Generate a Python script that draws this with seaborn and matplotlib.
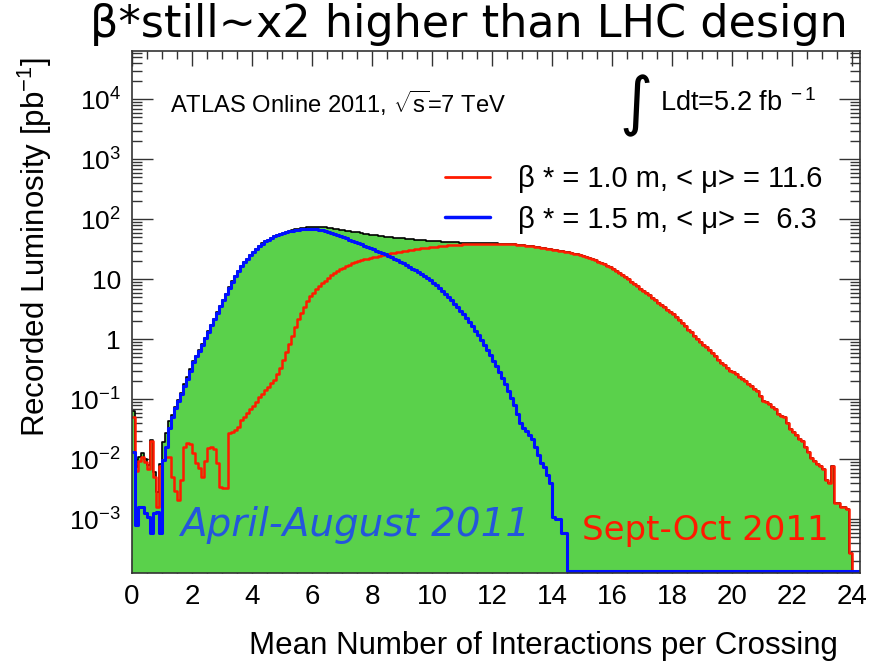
import numpy as np
import pandas as pd
import matplotlib
matplotlib.use('Agg')
import matplotlib.pyplot as plt
import seaborn as sns
from matplotlib.lines import Line2D
from matplotlib.ticker import FixedLocator, FixedFormatter, MultipleLocator, LogLocator, NullFormatter

# ── data: recorded luminosity [pb^-1] per 0.1 bin of <mu>, bins start at 0.0 ──
bin_width = 0.1

lumi_beta10 = [  # beta* = 1.0 m (Sept-Oct 2011)
    0.05, 0.0065, 0.0095, 0.011, 0.009, 0.007, 0.02, 0.005, 0.0016, 0.0076,
    0.0098, 0.011, 0.011, 0.005, 0.003, 0.0021, 0.0046, 0.016, 0.019, 0.018,
    0.0125, 0.0087, 0.0072, 0.0051, 0.0095, 0.0155, 0.016, 0.015, 0.0087, 0.0035,
    0.0033, 0.0033, 0.027, 0.029, 0.031, 0.035, 0.045, 0.05, 0.059, 0.068,
    0.077, 0.09, 0.11, 0.125, 0.145, 0.16, 0.185, 0.21, 0.26, 0.33,
    0.45, 0.62, 0.85, 1.15, 1.6, 2.2, 2.8, 3.5, 4.4, 5.2,
    6.0, 6.9, 7.7, 8.6, 9.5, 10.6, 11.7, 12.8, 13.8, 14.8,
    15.7, 16.6, 17.5, 18.4, 19.3, 20.1, 20.8, 21.5, 22.2, 22.8,
    23.4, 24.0, 24.6, 25.2, 25.8, 26.4, 27.0, 27.6, 28.2, 28.8,
    29.4, 30.0, 30.6, 31.1, 31.7, 32.2, 32.7, 33.2, 33.7, 34.2,
    34.7, 35.1, 35.6, 36.0, 36.4, 36.8, 37.2, 37.5, 37.8, 38.1,
    38.4, 38.7, 38.9, 39.1, 39.3, 39.4, 39.5, 39.6, 39.6, 39.6,
    39.5, 39.4, 39.3, 39.2, 39.0, 38.8, 38.5, 38.2, 37.9, 37.5,
    37.1, 36.6, 36.1, 35.5, 34.9, 34.3, 33.7, 33.1, 32.5, 31.9,
    31.3, 30.7, 30.1, 29.5, 28.9, 28.3, 27.6, 26.9, 26.2, 25.5,
    24.8, 23.8, 22.8, 21.8, 20.8, 19.8, 18.8, 17.8, 16.8, 15.8,
    14.8, 13.8, 12.8, 11.8, 10.9, 10.0, 9.2, 8.4, 7.7, 7.0,
    6.4, 5.9, 5.4, 4.9, 4.5, 4.1, 3.7, 3.4, 3.1, 2.85,
    2.6, 2.35, 2.1, 1.9, 1.65, 1.45, 1.3, 1.15, 1.02, 0.91,
    0.82, 0.74, 0.66, 0.59, 0.52, 0.46, 0.41, 0.37, 0.33, 0.30,
    0.28, 0.26, 0.24, 0.22, 0.20, 0.18, 0.165, 0.15, 0.135, 0.115,
    0.095, 0.09, 0.085, 0.075, 0.068, 0.058, 0.053, 0.05, 0.04, 0.032,
    0.028, 0.025, 0.022, 0.02, 0.016, 0.013, 0.0105, 0.0095, 0.0085, 0.0076,
    0.007, 0.0045, 0.004, 0.0076, 0.0019, 0.0019, 0.0016, 0.0016, 0.0015, 0.00027,
    0, 0, 0,
]

lumi_beta15 = [  # beta* = 1.5 m (April-August 2011)
    0.013, 0.0008, 0.0016, 0.0016, 0.00125, 0.0011, 0.0006, 0.00125, 0.0013, 0.0006,
    0.0098, 0.016, 0.033, 0.05, 0.072, 0.095, 0.125, 0.165, 0.22, 0.30,
    0.42, 0.52, 0.65, 0.82, 1.05, 1.35, 1.75, 2.2, 2.8, 3.6,
    4.6, 5.8, 7.3, 9.2, 11.4, 13.8, 16.4, 19.2, 22.2, 25.2,
    29.0, 32.5, 36.0, 39.5, 43.0, 46.0, 49.0, 52.0, 54.5, 57.0,
    59.0, 61.0, 63.0, 65.0, 66.5, 67.5, 68.5, 69.0, 69.5, 69.5,
    69.0, 68.5, 67.5, 66.0, 64.5, 62.5, 60.0, 57.5, 55.0, 52.5,
    50.0, 48.0, 46.0, 44.0, 42.5, 40.5, 38.5, 36.5, 34.5, 33.0,
    31.5, 30.0, 28.5, 27.2, 26.0, 24.7, 23.4, 22.2, 21.0, 19.8,
    18.6, 17.4, 16.2, 15.1, 14.1, 13.1, 12.2, 11.3, 10.4, 9.6,
    8.8, 8.0, 7.3, 6.5, 5.8, 5.1, 4.5, 3.9, 3.4, 3.0,
    2.6, 2.25, 1.95, 1.65, 1.4, 1.18, 0.98, 0.8, 0.66, 0.54,
    0.44, 0.36, 0.29, 0.23, 0.18, 0.14, 0.105, 0.08, 0.058, 0.04,
    0.033, 0.03, 0.025, 0.022, 0.016, 0.012, 0.0088, 0.0075, 0.0055, 0.004,
    0.0011, 0.001, 0.001, 0.0006, 0.0006, 0, 0, 0, 0, 0,
    0, 0, 0, 0, 0, 0, 0, 0, 0, 0,
    0, 0, 0, 0, 0, 0, 0, 0, 0, 0,
    0, 0, 0, 0, 0, 0, 0, 0, 0, 0,
    0, 0, 0, 0, 0, 0, 0, 0, 0, 0,
    0, 0, 0, 0, 0, 0, 0, 0, 0, 0,
    0, 0, 0, 0, 0, 0, 0, 0, 0, 0,
    0, 0, 0, 0, 0, 0, 0, 0, 0, 0,
    0, 0, 0, 0, 0, 0, 0, 0, 0, 0,
    0, 0, 0, 0, 0, 0, 0, 0, 0, 0,
    0, 0, 0,
]

xtick_values = [0, 2, 4, 6, 8, 10, 12, 14, 16, 18, 20, 22, 24]
xtick_labels = ['0', '2', '4', '6', '8', '10', '12', '14', '16', '18', '20', '22', '24']
ytick_values = [1e-3, 1e-2, 1e-1, 1, 10, 1e2, 1e3, 1e4]
ytick_labels = [r'$10^{-3}$', r'$10^{-2}$', r'$10^{-1}$', '1', '10',
                r'$10^{2}$', r'$10^{3}$', r'$10^{4}$']

legend_labels = ['β * = 1.0 m, < μ> = 11.6', 'β * = 1.5 m, < μ> =  6.3']

# ── style ────────────────────────────────────────────────────────────────────
sns.set_theme(style='ticks')
plt.rcParams['font.family'] = ['Liberation Sans', 'DejaVu Sans']
plt.rcParams['mathtext.fontset'] = 'custom'
plt.rcParams['mathtext.rm'] = 'Liberation Sans'
plt.rcParams['mathtext.it'] = 'Liberation Sans:italic'
plt.rcParams['mathtext.bf'] = 'Liberation Sans:bold'
plt.rcParams['text.color'] = 'black'
plt.rcParams['axes.labelcolor'] = 'black'

GREEN = '#5AD14B'
RED = '#FF1A00'
BLUE = '#0010FF'
YMIN, YMAX = 1.27e-4, 6.4e4

n = len(lumi_beta10)
edges = np.round(np.arange(n + 1) * bin_width, 3)
bin_list = edges.tolist()
df = pd.DataFrame({
    'mu': edges[:-1] + bin_width / 2,
    'beta10': lumi_beta10,
    'beta15': lumi_beta15,
})
df['total'] = df['beta10'] + df['beta15']
# empty bins sit on the bottom of the log axis, like the ROOT plot
floor = YMIN * 1.1
for col in ['beta10', 'beta15', 'total']:
    df[col + '_plot'] = df[col].clip(lower=floor)

fig = plt.figure(figsize=(8.73, 6.63), dpi=100)
ax = fig.add_axes([0.1512, 0.1357, 0.8338, 0.7873])

sns.histplot(data=df, x='mu', weights='total_plot', bins=bin_list, element='step',
             fill=True, color=GREEN, alpha=1, linewidth=0, ax=ax)
sns.histplot(data=df, x='mu', weights='total_plot', bins=bin_list, element='step',
             fill=False, color='black', linewidth=1.2, ax=ax)
sns.histplot(data=df, x='mu', weights='beta10_plot', bins=bin_list, element='step',
             fill=False, color=RED, linewidth=1.8, ax=ax)
sns.histplot(data=df, x='mu', weights='beta15_plot', bins=bin_list, element='step',
             fill=False, color=BLUE, linewidth=2.2, ax=ax)

ax.set_yscale('log')
ax.set_xlim(0, 24.25)
ax.set_ylim(YMIN, YMAX)

ax.xaxis.set_major_locator(FixedLocator(xtick_values))
ax.xaxis.set_major_formatter(FixedFormatter(xtick_labels))
ax.xaxis.set_minor_locator(MultipleLocator(0.5))
ax.yaxis.set_major_locator(FixedLocator(ytick_values))
ax.yaxis.set_major_formatter(FixedFormatter(ytick_labels))
ax.yaxis.set_minor_locator(LogLocator(base=10, subs=np.arange(2, 10), numticks=20))
ax.yaxis.set_minor_formatter(NullFormatter())

ax.tick_params(axis='both', which='both', direction='in', top=True, right=True,
               colors='#333333', labelcolor='black', width=1.0)
ax.tick_params(axis='x', which='major', length=11, labelsize=20, pad=8)
ax.tick_params(axis='x', which='minor', length=6)
ax.tick_params(axis='y', which='major', length=15, labelsize=19, pad=8)
ax.tick_params(axis='y', which='minor', length=7.5)
for sp in ax.spines.values():
    sp.set_color('#333333')
    sp.set_linewidth(1.2)

ax.set_xlabel('Mean Number of Interactions per Crossing', fontsize=22.5)
ax.xaxis.set_label_coords(0.97, -0.14)
ax.xaxis.label.set_ha('right')
ax.xaxis.label.set_va('center')
ax.set_ylabel(r'Recorded Luminosity [pb$^{-1}$]', fontsize=22.5, loc='top')
ax.yaxis.set_label_coords(-0.133, 0.988)
ax.yaxis.label.set_va('center')

# ATLAS labels
ax.text(0.052, 0.900, r'ATLAS Online 2011, $\sqrt{\mathrm{s}}$=7 TeV', transform=ax.transAxes,
        fontsize=17.1, ha='left', va='center')
ax.text(0.692, 0.895, '∫', transform=ax.transAxes, fontsize=46,
        family='DejaVu Sans', ha='center', va='center')
ax.text(0.725, 0.900, r'Ldt=5.2 fb$^{\ -1}$', transform=ax.transAxes,
        fontsize=19.5, ha='left', va='center')

handles = [Line2D([0], [0], color=RED, lw=2), Line2D([0], [0], color=BLUE, lw=2.5)]
ax.legend(handles, legend_labels, loc='upper left', bbox_to_anchor=(0.43, 0.781),
          frameon=False, fontsize=21, borderpad=0, borderaxespad=0,
          handlelength=1.55, handletextpad=0.95, labelspacing=0.42)

# period annotations
ax.text(0.306, 0.092, 'April-August 2011', transform=ax.transAxes, fontsize=28,
        color='#2456DC', style='italic', family='DejaVu Sans', ha='center', va='center')
ax.text(0.787, 0.082, 'Sept-Oct 2011', transform=ax.transAxes, fontsize=24.5,
        color='#FF1A00', family='DejaVu Sans', ha='center', va='center')

fig.text(0.5367, 0.963, 'β*still~x2 higher than LHC design', fontsize=32,
         family='DejaVu Sans', color='black', ha='center', va='center')

fig.savefig('out.png', dpi=100)
